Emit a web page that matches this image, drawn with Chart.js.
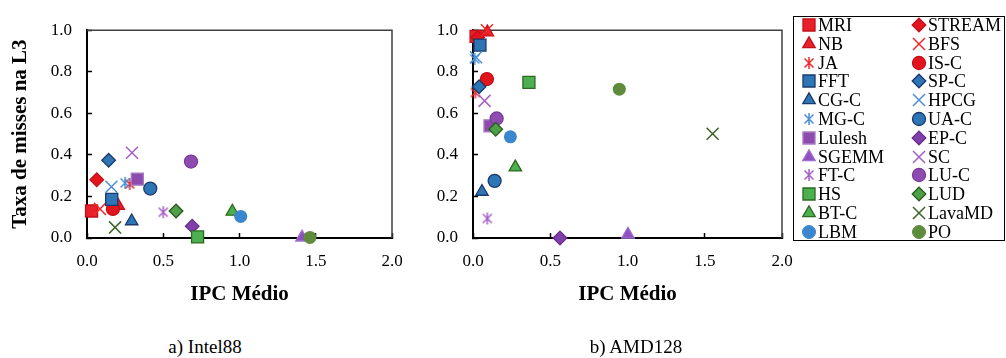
<!DOCTYPE html>
<html>
<head>
<meta charset="utf-8">
<script src="https://cdn.jsdelivr.net/npm/chart.js@4.4.0/dist/chart.umd.min.js"></script>
<style>
body { margin: 0; background: #fff; width: 1006px; height: 358px; position: relative; overflow: hidden;
  font-family: "Liberation Serif", "Times New Roman", serif; color: #000; }
#intel { position: absolute; left: 0; top: 0; }
#amd { position: absolute; left: 420px; top: 0; }
#legend { position: absolute; left: 793px; top: 16px; width: 212px; height: 225px; border: 1.5px solid #000;
  box-sizing: border-box; background: #fff; z-index: 2; }
#legend .it { position: absolute; height: 20px; line-height: 20px; font-size: 18px; white-space: nowrap; }
#legend canvas { position: absolute; }
.cap { position: absolute; top: 337px; width: 200px; text-align: center; font-size: 19px; line-height: 20px; }
</style>
</head>
<body>
<canvas id="intel" width="430" height="330"></canvas>
<canvas id="amd" width="400" height="330"></canvas>
<div id="legend"></div>
<div class="cap" style="left:105px">a) Intel88</div>
<div class="cap" style="left:536px">b) AMD128</div>
<script>
// series, in legend order
var names = ['MRI', 'STREAM', 'NB', 'BFS', 'JA', 'IS-C',
             'FFT', 'SP-C', 'CG-C', 'HPCG', 'MG-C', 'UA-C',
             'Lulesh', 'EP-C', 'SGEMM', 'SC', 'FT-C', 'LU-C',
             'HS', 'LUD', 'BT-C', 'LavaMD', 'LBM', 'PO'];

// Intel88: IPC medio / taxa de misses na L3
var intelIpc  = [0.03, 0.064, 0.205, 0.085, 0.28, 0.17,
                 0.162, 0.142, 0.293, 0.16, 0.25, 0.415,
                 0.33, 0.69, 1.41, 0.295, 0.50, 0.682,
                 0.725, 0.584, 0.953, 0.184, 1.008, 1.462];
var intelMiss = [0.13, 0.28, 0.155, 0.14, 0.26, 0.14,
                 0.186, 0.374, 0.081, 0.247, 0.265, 0.238,
                 0.283, 0.057, 0.003, 0.41, 0.124, 0.368,
                 0.005, 0.13, 0.127, 0.051, 0.104, 0.003];

// AMD128
var amdIpc  = [0.02, 0.03, 0.093, 0.09, 0.015, 0.09,
               0.045, 0.039, 0.058, 0.02, 0.011, 0.14,
               0.11, 0.563, 1.003, 0.075, 0.093, 0.153,
               0.362, 0.147, 0.274, 1.551, 0.242, 0.947];
var amdMiss = [0.97, 0.965, 0.99, 1.0, 0.70, 0.765,
               0.928, 0.728, 0.223, 0.87, 0.862, 0.275,
               0.54, 0.0, 0.017, 0.66, 0.094, 0.575,
               0.749, 0.523, 0.34, 0.502, 0.487, 0.716];

var xTicks = [0, 0.5, 1.0, 1.5, 2.0];
var yTicks = [0, 0.2, 0.4, 0.6, 0.8, 1.0];

// marker styles
var shapes = ['rect', 'rectRot', 'triangle', 'crossRot', 'aster', 'circle',
              'rect', 'rectRot', 'triangle', 'crossRot', 'aster', 'circle',
              'rect', 'rectRot', 'triangle', 'crossRot', 'aster', 'circle',
              'rect', 'rectRot', 'triangle', 'crossRot', 'circle', 'circle'];
var fills = ['#e8202a', '#e3151c', '#e8202a', '#f02a2a', '#f02a2a', '#e3151c',
             '#2e75b6', '#2e75b6', '#2e75b6', '#4a8fd6', '#4a8fd6', '#2e75b6',
             '#8e4bae', '#8040aa', '#9050c0', '#a75fc8', '#a75fc8', '#8e4cb0',
             '#4caf50', '#4ca046', '#4caf50', '#3b6425', '#3a86cf', '#5e8c3c'];
var borders = ['#c4101a', '#c4101a', '#c4101a', '#f02a2a', '#f02a2a', '#c4101a',
               '#1b3a6b', '#1b3a6b', '#1b3a6b', '#4a8fd6', '#4a8fd6', '#1b3a6b',
               '#a67cc4', '#6a2d90', '#a070d0', '#a75fc8', '#a75fc8', '#7a3a9e',
               '#2d6a20', '#2d5a1f', '#2d6a20', '#3b6425', '#3a86cf', '#5e8c3c'];
var radius = { rect: 8.5, rectRot: 6.8, triangle: 7.2, crossRot: 8.5, circle: 6.5 };

function makeAster(color) {
  var c = document.createElement('canvas');
  c.width = 14; c.height = 14;
  var g = c.getContext('2d');
  g.strokeStyle = color; g.lineWidth = 1.5;
  g.beginPath();
  g.moveTo(7, 1); g.lineTo(7, 13);
  g.moveTo(2.5, 2.5); g.lineTo(11.5, 11.5);
  g.moveTo(11.5, 2.5); g.lineTo(2.5, 11.5);
  g.stroke();
  return c;
}

function pointStyleOf(i) {
  return shapes[i] === 'aster' ? makeAster(fills[i]) : shapes[i];
}

var framePlugin = {
  id: 'frame',
  beforeDatasetsDraw: function (chart) {
    var a = chart.chartArea, ctx = chart.ctx;
    ctx.save();
    ctx.strokeStyle = '#404040';
    ctx.lineWidth = 1.5;
    ctx.beginPath();
    ctx.moveTo(a.left, a.top); ctx.lineTo(a.right, a.top); ctx.lineTo(a.right, a.bottom);
    ctx.stroke();
    ctx.restore();
  }
};

function build(id, xs, ys, yWidth, yTitle) {
  var datasets = names.map(function (n, i) {
    return {
      label: n,
      data: xs.map(function (x, k) { return k === i ? { x: x, y: ys[k] } : null; }).filter(Boolean),
      pointStyle: pointStyleOf(i),
      pointRadius: radius[shapes[i]] || 7,
      backgroundColor: fills[i],
      borderColor: borders[i],
      borderWidth: (shapes[i] === 'crossRot') ? 1.5 : ((i === 22 || i === 23) ? 0 : 1.3),
      clip: false,
      order: names.length - i
    };
  });
  var tickFont = { family: 'Liberation Serif', size: 17 };
  return new Chart(document.getElementById(id), {
    type: 'scatter',
    data: { datasets: datasets },
    options: {
      responsive: false,
      animation: false,
      devicePixelRatio: 1,
      layout: { padding: { left: 0, right: 38, top: 17, bottom: 0 } },
      plugins: { legend: { display: false }, tooltip: { enabled: false } },
      scales: {
        x: {
          type: 'linear', min: 0, max: 2,
          afterBuildTicks: function (s) { s.ticks = xTicks.map(function (v) { return { value: v }; }); },
          afterFit: function (s) { s.height = 92; },
          ticks: { color: '#000', font: tickFont, padding: 18, maxRotation: 0,
                   callback: function (v) { return Number(v).toFixed(1); } },
          grid: { drawOnChartArea: false, drawTicks: true, tickLength: -5, tickColor: '#000', tickWidth: 1.5 },
          border: { color: '#000', width: 2 },
          title: { display: true, text: 'IPC Médio', color: '#000',
                   font: { family: 'Liberation Serif', size: 21, weight: 'bold' },
                   padding: { top: 0, bottom: 23 } }
        },
        y: {
          type: 'linear', min: 0, max: 1,
          afterBuildTicks: function (s) { s.ticks = yTicks.map(function (v) { return { value: v }; }); },
          afterFit: function (s) { s.width = yWidth; },
          ticks: { color: '#000', font: tickFont, padding: 20,
                   callback: function (v) { return Number(v).toFixed(1); } },
          grid: { drawOnChartArea: false, drawTicks: true, tickLength: -5, tickColor: '#000', tickWidth: 1.5 },
          border: { color: '#000', width: 2 },
          title: { display: !!yTitle, text: yTitle || '', color: '#000',
                   font: { family: 'Liberation Serif', size: 21, weight: 'bold' },
                   padding: { top: 8, bottom: 0 } }
        }
      }
    },
    plugins: [framePlugin]
  });
}

build('intel', intelIpc, intelMiss, 87, 'Taxa de misses na L3');
build('amd', amdIpc, amdMiss, 53, null);

// legend: two columns, row-major
var legend = document.getElementById('legend');
names.forEach(function (n, i) {
  var col = i % 2, row = Math.floor(i / 2);
  var cx = col === 0 ? 15 : 125;
  var cy = 8 + row * 18.8;
  var cv = document.createElement('canvas');
  cv.width = 18; cv.height = 18;
  cv.style.left = (cx - 9) + 'px';
  cv.style.top = (cy - 9) + 'px';
  var g = cv.getContext('2d');
  g.fillStyle = fills[i];
  g.strokeStyle = borders[i];
  g.lineWidth = shapes[i] === 'crossRot' ? 1.5 : ((i === 22 || i === 23) ? 0 : 1.3);
  Chart.helpers.drawPoint(g, {
    pointStyle: pointStyleOf(i),
    radius: radius[shapes[i]] || 7,
    rotation: 0,
    borderWidth: g.lineWidth
  }, 9, 9);
  legend.appendChild(cv);
  var t = document.createElement('div');
  t.className = 'it';
  t.textContent = n;
  t.style.left = (cx + 9) + 'px';
  t.style.top = (cy - 10) + 'px';
  legend.appendChild(t);
});
</script>
</body>
</html>
